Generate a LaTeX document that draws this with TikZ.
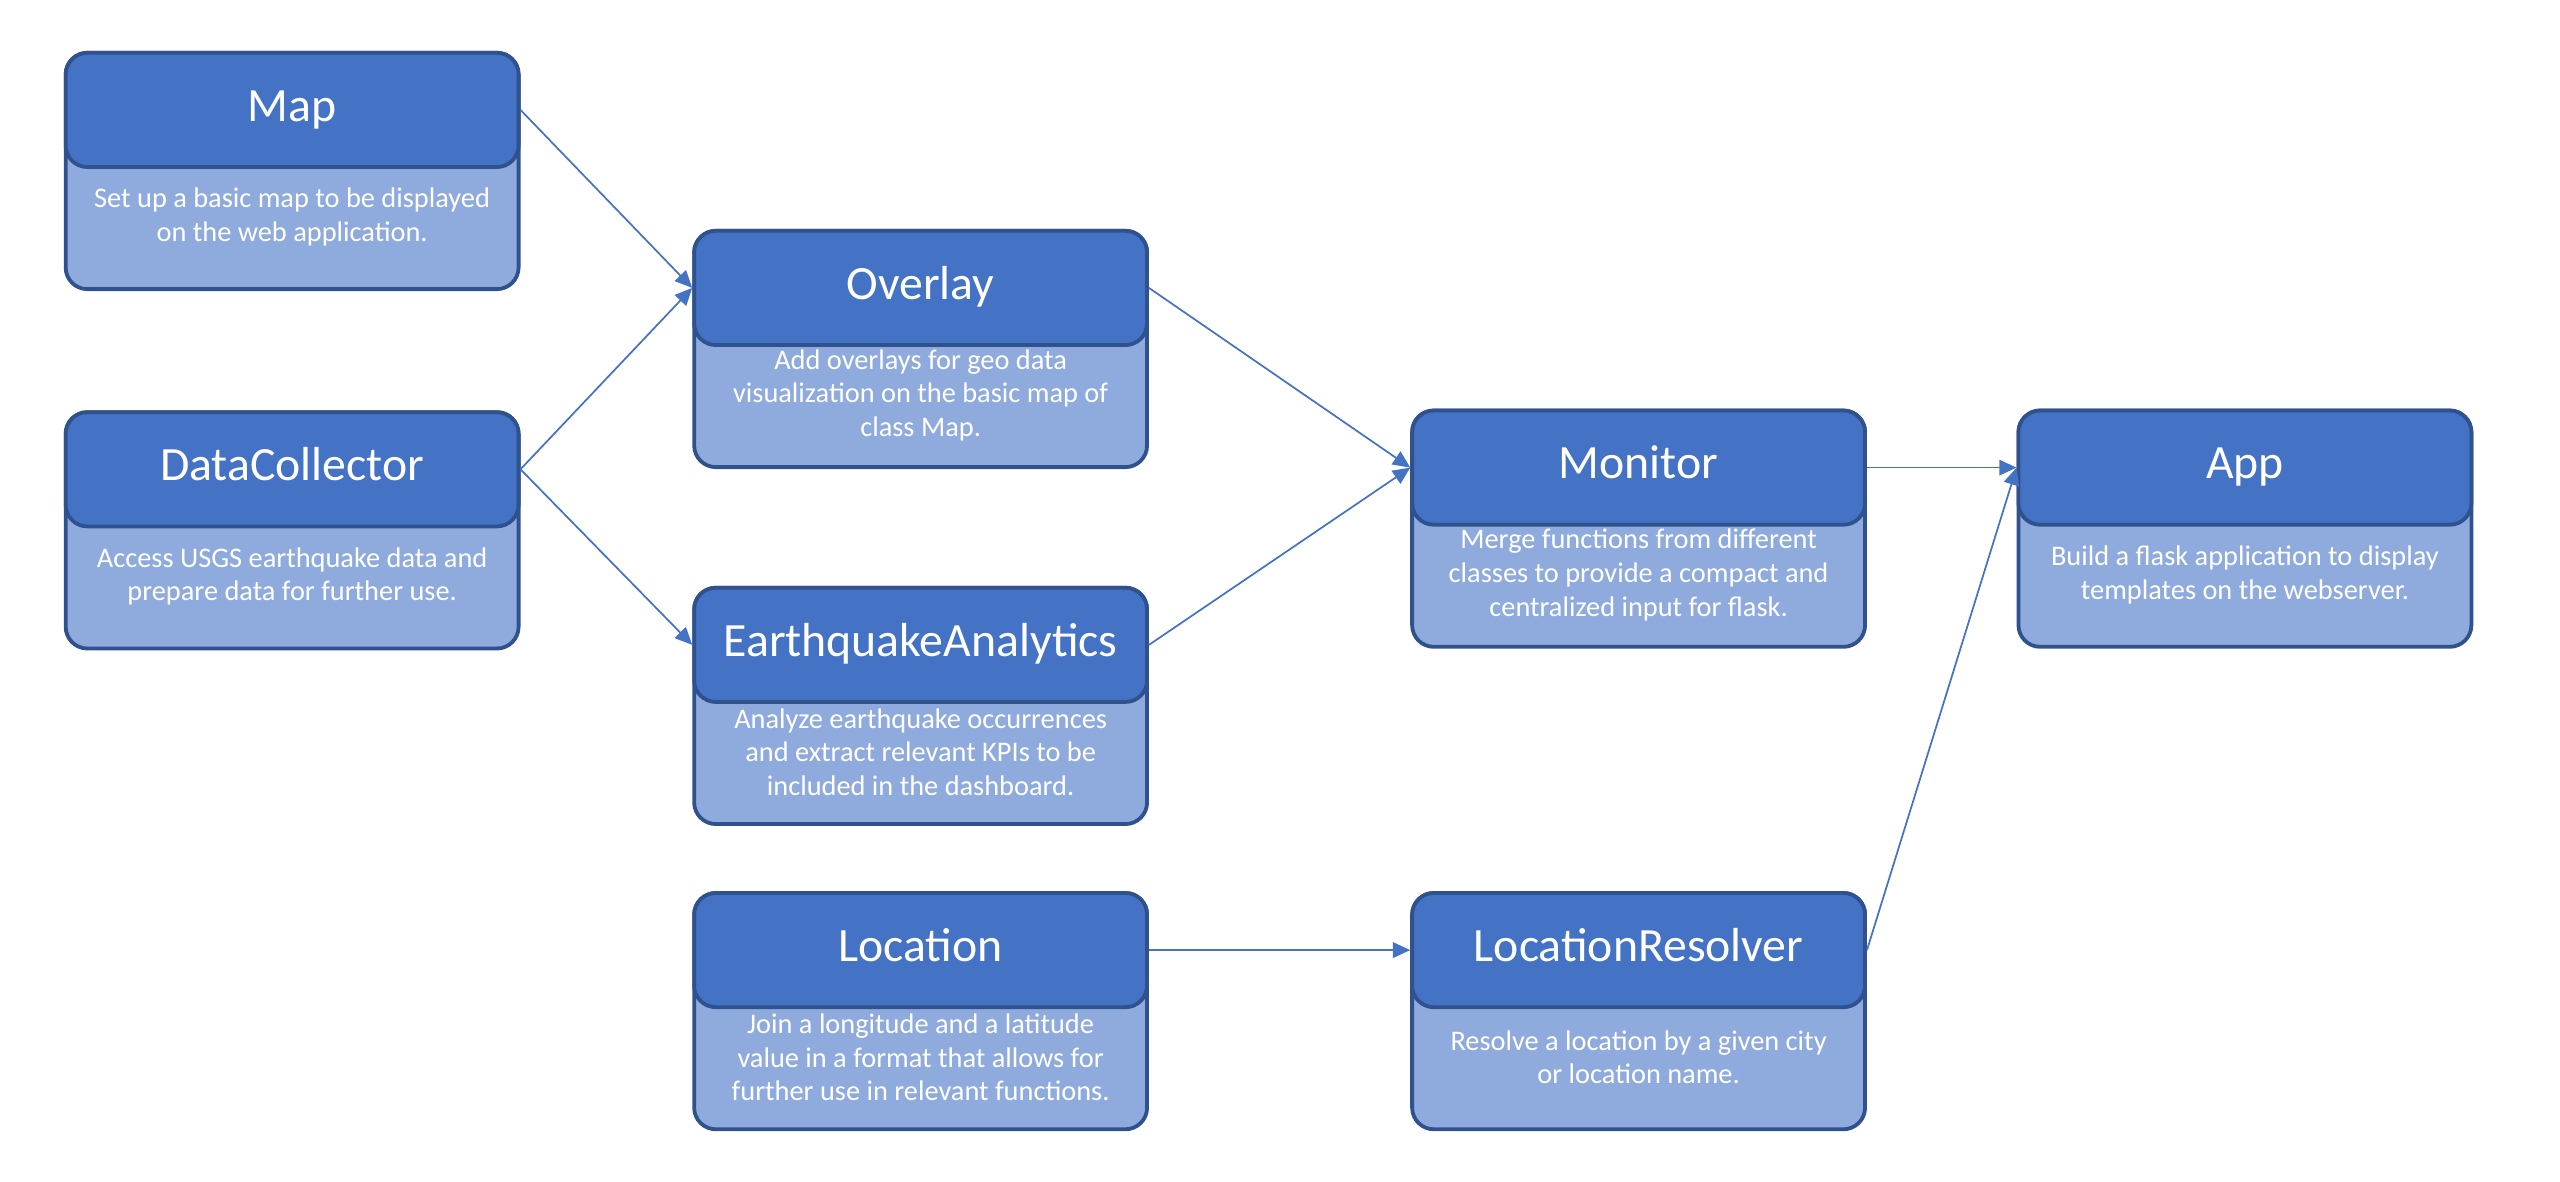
\documentclass[tikz,border=0pt]{standalone}
\usepackage{fontspec}
\setmainfont{Carlito}
\usetikzlibrary{arrows.meta,positioning}
\definecolor{headblue}{HTML}{4472C4}
\definecolor{bodyblue}{HTML}{8FAADC}
\definecolor{edgeblue}{HTML}{2F528F}
\tikzset{
  classbody/.style={draw=edgeblue, line width=1.1pt, fill=bodyblue,
    rounded corners=0.22cm, minimum width=4.6cm, minimum height=2.4cm,
    anchor=north},
  classhead/.style={draw=edgeblue, line width=1.1pt, fill=headblue,
    rounded corners=0.22cm, minimum width=4.6cm, minimum height=1.16cm,
    anchor=north, text=white, text height=0.644em, text depth=0pt,
    font=\fontsize{13.8}{16}\selectfont},
  classtext/.style={text=white, align=center,
    font=\fontsize{8.2}{9.7}\selectfont},
  uses/.style={draw=headblue, line width=0.5pt,
    -{Triangle[length=5pt,width=4.5pt]}}
}
\begin{document}
\begin{tikzpicture}
\useasboundingbox (0,0) rectangle (26,12);

% first column
\node[classbody] (mapbody) at (2.967,11.483) {};
\node[classhead] (map) at (mapbody.north) {Map};
\node[classtext] (maptext) at ([yshift=0.75cm]mapbody.south)
 {Set up a basic map to be displayed\\on the web application.};

\node[classbody] (collectorbody) at (2.967,7.833) {};
\node[classhead] (collector) at (collectorbody.north) {DataCollector};
\node[classtext] (collectortext) at ([yshift=0.75cm]collectorbody.south)
 {Access USGS earthquake data and\\prepare data for further use.};

% second column
\node[classbody] (overlaybody) at (9.35,9.675) {};
\node[classhead] (overlay) at (overlaybody.north) {Overlay};
\node[classtext] (overlaytext) at ([yshift=0.75cm]overlaybody.south)
 {Add overlays for geo data\\visualization on the basic map of\\class Map.};

\node[classbody] (analyticsbody) at (9.35,6.05) {};
\node[classhead] (analytics) at (analyticsbody.north) {EarthquakeAnalytics};
\node[classtext] (analyticstext) at ([yshift=0.75cm]analyticsbody.south)
 {Analyze earthquake occurrences\\and extract relevant KPIs to be\\included in the dashboard.};

\node[classbody] (locationbody) at (9.35,2.95) {};
\node[classhead] (location) at (locationbody.north) {Location};
\node[classtext] (locationtext) at ([yshift=0.75cm]locationbody.south)
 {Join a longitude and a latitude\\value in a format that allows for\\further use in relevant functions.};

% third column
\node[classbody] (monitorbody) at (16.642,7.85) {};
\node[classhead] (monitor) at (monitorbody.north) {Monitor};
\node[classtext] (monitortext) at ([yshift=0.75cm]monitorbody.south)
 {Merge functions from different\\classes to provide a compact and\\centralized input for flask.};

\node[classbody] (resolverbody) at (16.642,2.95) {};
\node[classhead] (resolver) at (resolverbody.north) {LocationResolver};
\node[classtext] (resolvertext) at ([yshift=0.75cm]resolverbody.south)
 {Resolve a location by a given city\\or location name.};

% fourth column
\node[classbody] (appbody) at (22.8,7.85) {};
\node[classhead] (app) at (appbody.north) {App};
\node[classtext] (apptext) at ([yshift=0.75cm]appbody.south)
 {Build a flask application to display\\templates on the webserver.};

\draw[uses] (map.east) to (overlay.west);
\draw[uses] (collector.east) to (overlay.west);
\draw[uses] (collector.east) to (analytics.west);
\draw[uses] (overlay.east) to (monitor.west);
\draw[uses] (analytics.east) to (monitor.west);
\draw[uses] (monitor.east) to (app.west);
\draw[uses] (location.east) to (resolver.west);
\draw[uses] (resolver.east) to (app.west);
\end{tikzpicture}
\end{document}
